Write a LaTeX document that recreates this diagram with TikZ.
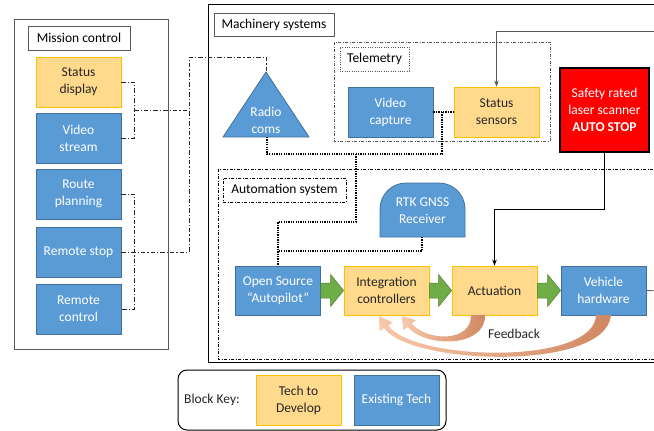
\documentclass[tikz,border=0pt]{standalone}
\usepackage{fontspec}
\setmainfont{Carlito}
\usetikzlibrary{calc,arrows.meta}

\definecolor{techblue}{HTML}{5B9BD5}
\definecolor{techblueline}{HTML}{41719C}
\definecolor{devfill}{HTML}{FFD98C}
\definecolor{devline}{HTML}{FFC000}
\definecolor{arrowgreen}{HTML}{70AD47}
\definecolor{arrowgreenline}{HTML}{507E32}
\definecolor{fbklight}{HTML}{F8C8AA}
\definecolor{fbkdark}{HTML}{D08761}
\definecolor{framegray}{HTML}{595959}
\definecolor{textdark}{HTML}{262626}

\tikzset{
  every node/.style={font=\fontsize{13.5}{17}\selectfont, align=center, inner sep=0pt},
  block/.style={minimum width=85pt, minimum height=50pt, line width=0.8pt},
  existing/.style={block, fill=techblue, draw=techblueline, text=white},
  develop/.style={block, fill=devfill, draw=devline, text=textdark},
  plainbox/.style={draw=framegray, line width=0.8pt, text=black},
  dottedbox/.style={draw=framegray, line width=0.7pt, dash pattern=on 1pt off 1.3pt, text=black},
  dashdotbox/.style={draw=black, line width=0.7pt, dash pattern=on 3pt off 1.5pt on 1pt off 1.5pt, text=black},
  mclink/.style={draw=black!85, line width=0.9pt, dash pattern=on 4.5pt off 2pt on 1.2pt off 2pt},
  datalink/.style={draw=black, line width=1.6pt, dash pattern=on 1.3pt off 1.1pt},
  stoplink/.style={draw=black, line width=1.2pt, -{Stealth[length=6pt,width=4.5pt]}},
  greenarrow/.style={fill=arrowgreen, draw=arrowgreenline, line width=0.5pt},
  feedback/.style={left color=fbklight, right color=fbkdark, draw=none},
}

% fat block arrow from the right side of one block to the left side of the next
\newcommand\blockarrow[2]{%
  \filldraw[greenarrow]
    ($(#1.east)+(0,-7.5)$) -- ($(#2.west)+(-13,-7.5)$) -- ($(#2.west)+(-13,-16)$)
    -- (#2.west) -- ($(#2.west)+(-13,16)$) -- ($(#2.west)+(-13,7.5)$)
    -- ($(#1.east)+(0,7.5)$) -- cycle;}

\begin{document}
\begin{tikzpicture}[x=1pt,y=-1pt]
\useasboundingbox (0,0) rectangle (654,431);
\clip (0,0) rectangle (654,431);
\fill[white] (0,0) rectangle (654,431);

% ---------------- frames ----------------
\draw[framegray, line width=1pt] (14,19) rectangle (168,349);
\node[plainbox, minimum width=102pt, minimum height=24pt] (mclabel) at (79,38) {Mission control};

\draw[black, line width=1pt] (208,4) rectangle (662,362);
\node[plainbox, minimum width=120pt, minimum height=23pt] (mslabel) at (274,24.5) {Machinery systems};

\draw[dashdotbox, draw=framegray] (334,42) rectangle (550,141);
\node[dottedbox, minimum width=69pt, minimum height=24pt] (tmlabel) at (374.5,59) {Telemetry};

\draw[dashdotbox] (218,169) rectangle (662,359);
\node[dashdotbox, minimum width=123pt, minimum height=24pt] (aslabel) at (284.5,190) {Automation system};

% ---------------- mission control ----------------
\node[develop]  (sd) at (78.5,82)  {Status\\display};
\node[existing] (vs) at (78.5,138) {Video\\stream};
\node[existing] (rp) at (78.5,194) {Route\\planning};
\node[existing] (rs) at (78.5,252) {Remote stop};
\node[existing] (rc) at (78.5,309) {Remote\\control};

% ---------------- machinery ----------------
\filldraw[fill=techblue, draw=techblueline, line width=0.8pt] (266,72) -- (309,137) -- (223,137) -- cycle;
\node[text=white] (radio) at (266,120) {Radio\\coms};
\coordinate (radiotop) at (266,72);
\coordinate (radiobot) at (267,137);

\node[existing] (vc) at (390.5,112) {Video\\capture};
\node[develop]  (ss) at (496.5,112) {Status\\sensors};

\node[block, minimum width=89pt, minimum height=84pt, fill=red, draw=black, line width=1.5pt, text=white]
  (scan) at (604.5,110) {Safety rated\\laser scanner\\\textbf{AUTO STOP}};

\filldraw[fill=techblue, draw=techblueline, line width=0.8pt]
  (380,237) [rounded corners=26pt] -- (380,183) -- (465,183) [sharp corners] -- (465,237) -- cycle;
\node[text=white] (gnss) at (422.5,211) {RTK GNSS\\Receiver};
\coordinate (gnssbot) at (422,237);

\node[existing, minimum height=49pt] (osa) at (278,290.5)   {Open Source\\“Autopilot”};
\node[develop,  minimum height=49pt] (ic)  at (386.5,290.5) {Integration\\controllers};
\node[develop,  minimum height=49pt] (act) at (494.5,290.5) {Actuation};
\node[existing, minimum height=49pt] (vh)  at (603.5,290.5) {Vehicle\\hardware};

\blockarrow{osa}{ic}
\blockarrow{ic}{act}
\blockarrow{act}{vh}

% ---------------- feedback loops ----------------
\shade[feedback]
  (485,315) .. controls (486,348) and (425,348) .. (407.7,326.8)
  -- (403.4,330.2) -- (402,316) -- (415.8,320.2) -- (411.5,323.6)
  .. controls (428,342) and (472,342) .. (471,315) -- cycle;
\shade[feedback]
  (611,315) .. controls (606,372) and (410,365) .. (384.1,328.2)
  -- (379.6,331.2) -- (379,316) -- (392.8,322.4) -- (388.3,325.4)
  .. controls (412,361) and (595,366) .. (596,315) -- cycle;
\node[text=textdark] (fbk) at (514,334) {Feedback};

% ---------------- mission control links ----------------
\coordinate (mcjoin) at (134,110);
\coordinate (relay) at (189,57);
\draw[mclink] (sd.east) -- ++(13,0) |- (vs.east);
\draw[mclink] (rp.east) -- ++(13,0) |- (rc.east);
\draw[mclink] (mcjoin) -- (mcjoin -| relay);
\draw[mclink] (rs.east) -| (relay) -| (radiotop);

% ---------------- data links ----------------
\coordinate (tj) at (442,112);
\coordinate (bj) at (356,154);
\coordinate (gj) at (278,251);
\draw[datalink] (vc.east) -- (ss.west);
\draw[datalink] (tj) -- ++(0,42) -| (radiobot);
\draw[datalink] (bj) -- ++(0,68) -| (osa.north);
\draw[datalink] (gnssbot) |- (gj);

% ---------------- stop / status lines ----------------
\coordinate (extin) at (662,31);
\coordinate (extout) at (662,291);
\draw[stoplink] (scan.south) -- ++(0,57) -| (act.north);
\draw[stoplink, draw=framegray, line width=1pt] (extin) -| (ss.north);
\draw[framegray, line width=0.8pt] (vh.east) -- (extout);

% ---------------- key ----------------
\draw[black, line width=1pt, rounded corners=9pt] (178,370) rectangle (446,430);
\node[text=textdark] (keylabel) at (212,400) {Block Key:};
\node[develop]  (keydev) at (298.5,400) {Tech to\\Develop};
\node[existing] (keyex)  at (396.5,400) {Existing Tech};
\end{tikzpicture}
\end{document}
